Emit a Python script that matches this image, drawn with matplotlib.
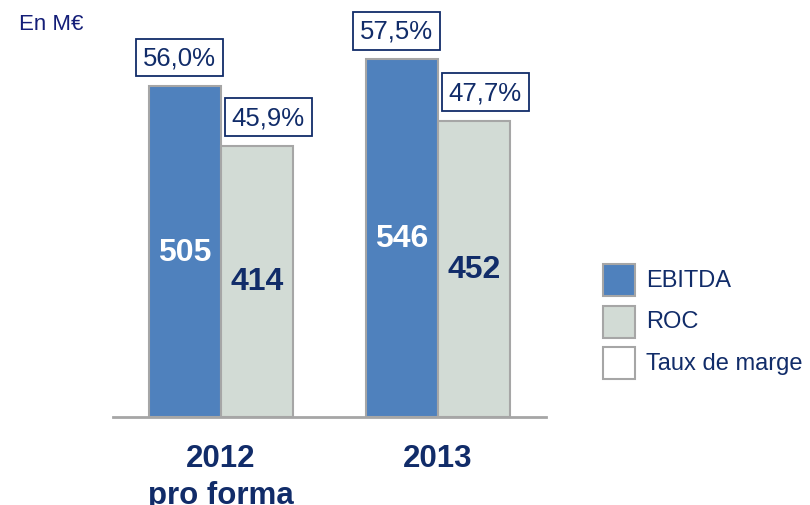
import matplotlib.pyplot as plt
from matplotlib.patches import Rectangle
import numpy as np

plt.rcParams['font.family'] = ['Liberation Sans', 'DejaVu Sans']

categories = ['2012\npro forma', '2013']
ebitda = [505, 546]
roc = [414, 452]
marge_ebitda = ['56,0%', '57,5%']
marge_roc = ['45,9%', '47,7%']
legend_labels = ['EBITDA', 'ROC', 'Taux de marge']

blue = '#4F81BD'
grey = '#D2DBD5'
edge = '#A6A6A6'
navy = '#112C69'

fig = plt.figure(figsize=(8.1, 5.06), dpi=100)
ax = fig.add_axes([113 / 810, 88 / 506, 433 / 810, 393 / 506])

x = np.arange(len(categories))
w = 0.332
b1 = ax.bar(x - w / 2, ebitda, w, color=blue, edgecolor=edge, linewidth=1.5)
b2 = ax.bar(x + w / 2, roc, w, color=grey, edgecolor=edge, linewidth=1.5)

ax.set_xlim(-0.4977, 1.4977)
ax.set_ylim(0, 600)

for i in range(len(categories)):
    ax.text(x[i] - w / 2, ebitda[i] / 2, str(ebitda[i]), ha='center', va='center',
            color='white', fontsize=23, fontweight='bold')
    ax.text(x[i] + w / 2, roc[i] / 2, str(roc[i]), ha='center', va='center',
            color=navy, fontsize=23, fontweight='bold')
    ax.annotate(marge_ebitda[i], (x[i] - w / 2, ebitda[i]),
                xytext=(-4, 12), textcoords='offset points', ha='center', va='bottom',
                fontsize=18.5, color=navy,
                bbox=dict(boxstyle='square,pad=0.27', fc='white', ec=navy, lw=1.3))
    ax.annotate(marge_roc[i], (x[i] + w / 2, roc[i]),
                xytext=(8, 12), textcoords='offset points', ha='center', va='bottom',
                fontsize=18.5, color=navy,
                bbox=dict(boxstyle='square,pad=0.27', fc='white', ec=navy, lw=1.3))

for s in ['top', 'right', 'left']:
    ax.spines[s].set_visible(False)
ax.spines['bottom'].set_color(edge)
ax.spines['bottom'].set_linewidth(2)
ax.set_yticks([])
ax.set_xticks(x)
ax.set_xticklabels(categories, fontsize=22.5, fontweight='bold', color=navy, linespacing=1.3)
ax.tick_params(axis='x', length=0, pad=19)

fig.text(19 / 810, 1 - 30 / 506, 'En M€', fontsize=16, color='#141E78', va='baseline')

# legend drawn by hand (square swatches)
colors = [blue, grey, 'white']
for k, lab in enumerate(legend_labels):
    top = 265 + 41.5 * k
    fig.patches.append(Rectangle((603 / 810, 1 - (top + 32) / 506), 32 / 810, 32 / 506,
                                 transform=fig.transFigure, facecolor=colors[k],
                                 edgecolor=edge, lw=1.5))
    fig.text(646 / 810, 1 - (top + 16) / 506, lab, fontsize=17, color=navy, va='center')

fig.savefig('out.png', dpi=100)
